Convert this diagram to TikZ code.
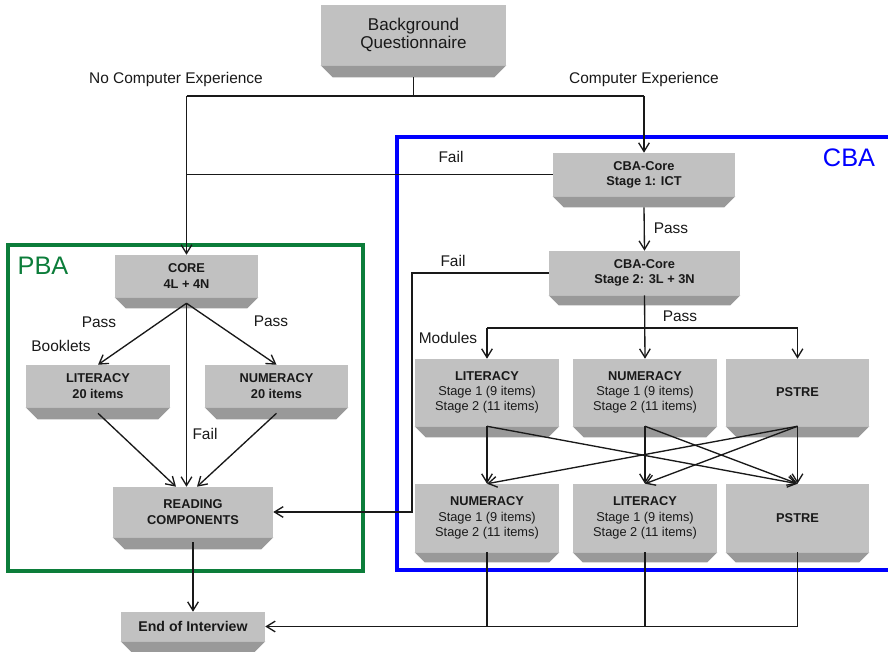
\documentclass[tikz,border=0pt]{standalone}
\usepackage{fontspec}
\setmainfont{Liberation Sans}
\usetikzlibrary{arrows.meta,calc}
\definecolor{boxlight}{RGB}{193,193,193}
\definecolor{boxband}{RGB}{153,153,153}
\definecolor{txt}{RGB}{25,25,25}
\definecolor{pbagreen}{RGB}{12,125,58}
\definecolor{cbablue}{RGB}{0,0,255}
\tikzset{
  gbox/.style={fill=boxlight, draw=none, inner sep=0pt, align=center, text=txt,
    font=\fontsize{9.6}{11.4}\selectfont\bfseries},
  conn/.style={draw=black!90, line width=1pt},
  arr/.style={conn, -{Straight Barb[length=6.5pt,width=8pt]}},
  lbl/.style={text=txt, font=\fontsize{11.6}{13}\selectfont, inner sep=0pt},
  frame/.style={line width=2.3pt},
}
\newcommand\mybox[7]{%
  \node[gbox, minimum width=#4*0.75pt, minimum height=#5*0.75pt] (#1) at (#2,#3) {#7};
  \fill[boxband] (#1.south west) -- (#1.south east) -- ++(-#6,#6) -- ($(#1.south west)+(#6,#6)$) -- cycle;
}
\begin{document}
\begin{tikzpicture}[x=0.75pt,y=-0.75pt]
\clip (0,0) rectangle (888,652);
\fill[white] (0,0) rectangle (888,652);
% frames
\draw[frame, pbagreen] (8,245) rectangle (363,571);
\draw[frame, cbablue] (397,137) rectangle (900,570);
\node[font=\fontsize{19}{20}\selectfont, text=pbagreen, inner sep=0pt] (pba) at (43,266) {PBA};
\node[font=\fontsize{19}{20}\selectfont, text=cbablue, inner sep=0pt] (cba) at (849,158) {CBA};
% boxes
\mybox{bq}{413.5}{35}{185}{60}{12}{\mdseries\fontsize{12.8}{15}\selectfont Background\\\mdseries\fontsize{12.8}{15}\selectfont Questionnaire}
\mybox{s1}{644}{174.5}{182}{43}{11}{CBA-Core\\Stage 1: ICT}
\mybox{s2}{644.5}{273}{191}{44}{10}{CBA-Core\\Stage 2: 3L + 3N}
\mybox{core}{186.5}{276}{143}{42}{11}{CORE\\4L + 4N}
\mybox{plit}{98}{386}{144}{42}{12}{LITERACY\\20 items}
\mybox{pnum}{276.5}{386}{143}{42}{12}{NUMERACY\\20 items}
\mybox{read}{193}{512}{160}{50}{12}{READING\\COMPONENTS}
\mybox{end}{193}{626.5}{144}{29}{11}{\fontsize{10.6}{12}\selectfont End of Interview}
\mybox{clit}{487}{392.5}{144}{67}{11}{LITERACY\\\mdseries Stage 1 (9 items)\\\mdseries Stage 2 (11 items)}
\mybox{cnum}{645}{392.5}{144}{67}{11}{NUMERACY\\\mdseries Stage 1 (9 items)\\\mdseries Stage 2 (11 items)}
\mybox{cpst}{797.5}{392.5}{143}{67}{11}{PSTRE}
\mybox{bnum}{487}{518}{144}{68}{10}{NUMERACY\\\mdseries Stage 1 (9 items)\\\mdseries Stage 2 (11 items)}
\mybox{blit}{645}{518}{144}{68}{10}{LITERACY\\\mdseries Stage 1 (9 items)\\\mdseries Stage 2 (11 items)}
\mybox{bpst}{797.5}{518}{143}{68}{10}{PSTRE}
% top split
\coordinate (jt) at (417,96);
\draw[conn] ([yshift=-9pt]bq.south) -- (bq.south |- jt);
\draw[conn] (jt -| core) -- (jt -| s1);
\draw[arr] (jt -| s1) -- (s1.north);
\draw[arr] (jt -| core) -- (core.north);
\node[lbl] (nce) at (176,80) {No Computer Experience};
\node[lbl] (ce) at (644,80) {Computer Experience};
% fail from stage 1
\draw[conn] (s1.west) -- (s1.west -| core);
\node[lbl] (f1) at (451,157) {Fail};
% stage1 -> stage2
\draw[arr] ([yshift=-8.25pt]s1.south) -- (s2.north);
\node[lbl] (p1) at (671,228) {Pass};
% stage2 fail
\coordinate (fc) at (412,273);
\draw[arr] (s2.west) -- (fc) |- (read.east);
\node[lbl] (f2) at (453,261) {Fail};
% stage2 pass -> modules
\coordinate (mj) at (645,328);
\draw[arr] (s2.south) -- (cnum.north);
\draw[conn] (clit.north |- mj) -- (cpst.north |- mj);
\draw[arr] (clit.north |- mj) -- (clit.north);
\draw[arr] (cpst.north |- mj) -- (cpst.north);
\node[lbl] (p2) at (680,316) {Pass};
\node[lbl] (mod) at (448,338) {Modules};
% crossings
\draw[arr] (clit.south) -- (bnum.north);
\draw[arr] (clit.south) -- (bpst.north);
\draw[arr] (cnum.south) -- (blit.north);
\draw[arr] (cnum.south) -- (bpst.north);
\draw[arr] (cpst.south) -- (bpst.north);
\draw[arr] (cpst.south) -- (bnum.north);
\draw[arr] (cpst.south) -- (blit.north);
% to end of interview
\draw[conn] (bnum.south) -- (bnum.south |- end.east);
\draw[conn] (blit.south) -- (blit.south |- end.east);
\draw[arr] (bpst.south) |- (end.east);
% PBA
\coordinate (cb) at ([yshift=-4.5pt]core.south);
\draw[arr] (cb) -- (plit.north);
\draw[arr] (cb) -- (pnum.north);
\draw[arr] (cb) -- (read.north -| cb);
\draw[arr] ([yshift=-4.5pt]plit.south) -- ([xshift=-12.75pt]read.north);
\draw[arr] ([yshift=-4.5pt]pnum.south) -- ([xshift=3pt]read.north);
\draw[arr] ([yshift=-3.75pt]read.south) -- (end.north);
\node[lbl] (fp) at (205,434) {Fail};
\node[lbl] (pp1) at (99,322) {Pass};
\node[lbl] (pp2) at (271,321) {Pass};
\node[lbl] (bk) at (61,346) {Booklets};
\end{tikzpicture}
\end{document}
